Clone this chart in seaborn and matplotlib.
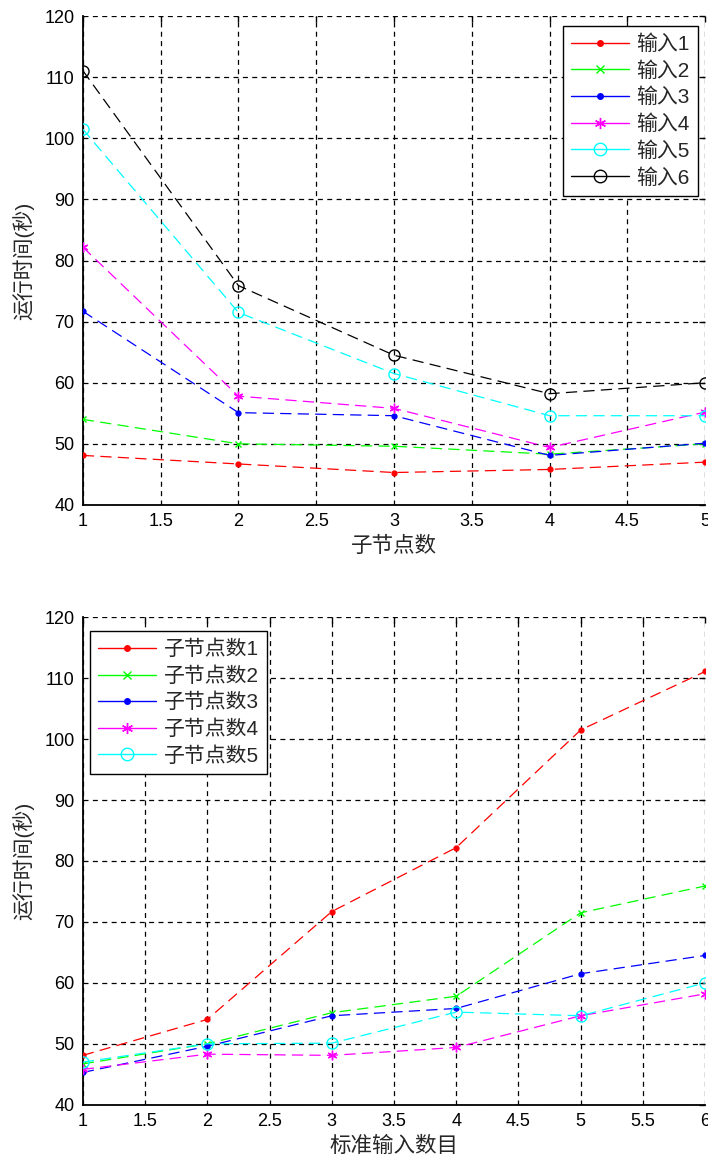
import matplotlib
matplotlib.use("Agg")
import matplotlib.pyplot as plt
from matplotlib.lines import Line2D
from matplotlib.ticker import MultipleLocator, FuncFormatter
import seaborn as sns

# run time (s) per input set, x = number of child nodes
nodes = [1, 2, 3, 4, 5]
inputs = [1, 2, 3, 4, 5, 6]

in1 = [48.1, 46.7, 45.3, 45.8, 47.0]
in2 = [54.0, 50.0, 49.6, 48.3, 50.0]
in3 = [71.7, 55.1, 54.6, 48.1, 50.1]
in4 = [82.2, 57.8, 55.8, 49.4, 55.2]
in5 = [101.5, 71.5, 61.5, 54.6, 54.6]
in6 = [111.1, 75.9, 64.5, 58.2, 60.0]

top_labels = ['输入1', '输入2', '输入3', '输入4', '输入5', '输入6']
bot_labels = ['子节点数1', '子节点数2', '子节点数3', '子节点数4', '子节点数5']

colors = ['#ff0000', '#00ff00', '#0000ff', '#ff00ff', '#00ffff', '#000000']
star = (6, 2, 0)  # matlab-like asterisk
markers = ['.', 'x', '.', star, 'o', 'o']
msizes = [7, 4.5, 7, 7, 8, 8]

sns.set_style("white")
plt.rcParams['font.family'] = ['Liberation Sans', 'Noto Sans CJK SC', 'DejaVu Sans']
plt.rcParams['axes.unicode_minus'] = False

fig = plt.figure(figsize=(7.08, 11.58), dpi=100)
ax1 = fig.add_axes([0.117, 0.564, 0.879, 0.422])
ax2 = fig.add_axes([0.117, 0.046, 0.879, 0.421])


def draw(ax, x, series, labels):
    handles = []
    for i, (y, lab) in enumerate(zip(series, labels)):
        fill = 'none' if markers[i] == 'o' else colors[i]
        sns.lineplot(x=x, y=y, ax=ax, color=colors[i], marker=markers[i],
                     markersize=msizes[i], markeredgecolor=colors[i],
                     markerfacecolor=fill, markeredgewidth=1.0,
                     linestyle=(0, (9, 5)), linewidth=0.9, sort=False,
                     errorbar=None, zorder=3)
        handles.append(Line2D([], [], color=colors[i], marker=markers[i],
                              markersize=msizes[i] + 1, markeredgecolor=colors[i],
                              markerfacecolor=fill, linewidth=1.0, label=lab))
    return handles


top_series = [in1, in2, in3, in4, in5, in6]
h1 = draw(ax1, nodes, top_series, top_labels)

# second panel: same numbers, grouped by child-node count
bot_series = [[s[k] for s in top_series] for k in range(len(nodes))]
h2 = draw(ax2, inputs, bot_series, bot_labels)

for ax, xmax, xl in [(ax1, 5, '子节点数'), (ax2, 6, '标准输入数目')]:
    ax.set_xlim(1, xmax)
    ax.set_ylim(40, 120)
    ax.xaxis.set_major_locator(MultipleLocator(0.5))
    ax.yaxis.set_major_locator(MultipleLocator(10))
    ax.xaxis.set_major_formatter(FuncFormatter(lambda v, p: '%g' % v))
    ax.grid(True, color='black', linestyle=(0, (4, 3.5)), linewidth=0.9)
    ax.set_axisbelow(True)
    for s in ['top', 'right']:
        ax.spines[s].set_visible(False)
    for s in ['left', 'bottom']:
        ax.spines[s].set_color('black')
        ax.spines[s].set_linewidth(1.3)
    ax.tick_params(direction='in', length=4.5, width=1, top=True, right=True,
                   labelsize=13, colors='black', pad=6)
    ax.set_xlabel(xl, fontsize=15.5, labelpad=4)
    ax.set_ylabel('运行时间(秒)', fontsize=15, labelpad=7)

leg_kw = dict(fontsize=15, fancybox=False, framealpha=1, edgecolor='black',
              handlelength=2.8, handletextpad=0.35, labelspacing=0.34,
              borderpad=0.4, borderaxespad=0)
l1 = ax1.legend(handles=h1, loc='upper right', bbox_to_anchor=(0.989, 0.980), **leg_kw)
l2 = ax2.legend(handles=h2, loc='upper left', bbox_to_anchor=(0.011, 0.971), **leg_kw)
for lg in (l1, l2):
    lg.get_frame().set_linewidth(1.0)

fig.savefig('out.png', dpi=100)
